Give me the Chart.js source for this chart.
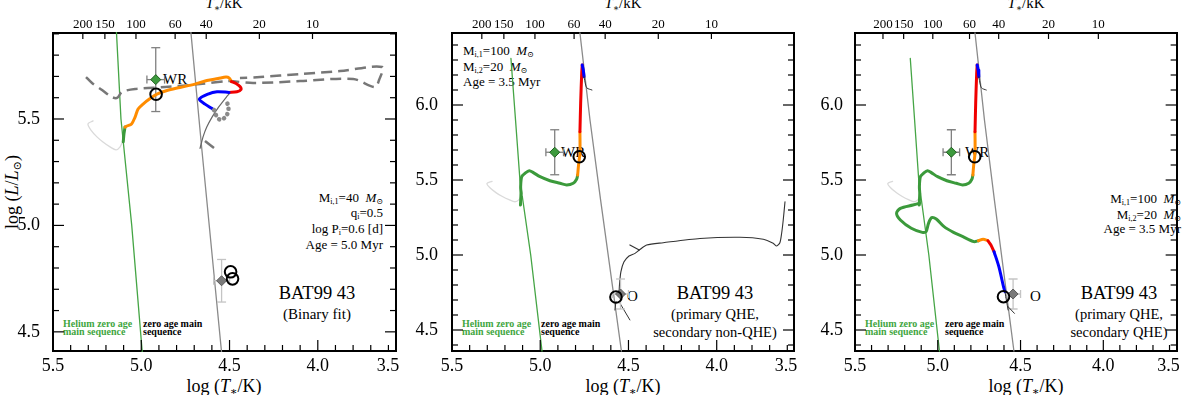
<!DOCTYPE html>
<html>
<head>
<meta charset="utf-8">
<script src="https://cdn.jsdelivr.net/npm/chart.js@4.4.1/dist/chart.umd.min.js"></script>
<style>
  html, body { margin:0; padding:0; background:#fff; }
  #wrap { position:relative; width:1200px; height:395px; overflow:hidden; background:#fff; }
  #wrap canvas { position:absolute; left:0; top:0; z-index:2; }
  .lbl { position:absolute; white-space:nowrap; line-height:1; color:#000; z-index:1;
         font-family:'Liberation Serif','Times New Roman','DejaVu Serif',serif; }
  .lbl sub { font-size:0.62em; vertical-align:-0.3em; line-height:0; }
  .lbl i { font-style:italic; }
</style>
</head>
<body>
<div id="wrap">
  <canvas id="c1" width="1200" height="395"></canvas>
  <canvas id="c2" width="1200" height="395"></canvas>
  <canvas id="c3" width="1200" height="395"></canvas>
</div>
<script>
// ---------------- tick labels ----------------
const bottomTickVals = [5.5, 5.0, 4.5, 4.0, 3.5];
const bottomTickLabels = ['5.5', '5.0', '4.5', '4.0', '3.5\u2002\u2009\u2009'];  // last label sits just inside the frame
const topTickK = [200, 150, 100, 60, 40, 20, 10];
const yTicks1 = [4.5, 5.0, 5.5];
const yTicks23 = [4.5, 5.0, 5.5, 6.0];
const topAxisShift = 0.03;   // the T*/kK axis of the reference sits ~0.03 dex off the log T axis

// ---------------- shared curves (log T, log L) ----------------
const heZamsT = [5.166, 5.140, 5.115, 5.054, 4.990];
const heZamsL = [6.31, 5.90, 5.50, 5.00, 4.36];
const zamsT = [4.775, 4.718, 4.658, 4.540];
const zamsL = [6.48, 5.90, 5.367, 4.36];
const lightT = [5.273, 5.302, 5.285, 5.251, 5.217, 5.177, 5.143, 5.120, 5.103];
const lightL = [5.491, 5.477, 5.448, 5.416, 5.392, 5.369, 5.355, 5.369, 5.401];

// observed stars: [WR, O]
const obsT = [4.918, 4.545];
const obsL = [5.685, 4.740];
const obsErrT = [0.05, 0.045];
const obsErrL = [0.15, 0.10];

// ---------------- panel 1: binary fit ----------------
const b1GreenT = [5.102, 5.098, 5.092];
const b1GreenL = [5.393, 5.430, 5.462];
const b1OrangeT = [5.092, 5.081, 5.055, 5.035, 5.018, 4.990, 4.950, 4.911, 4.854, 4.781, 4.696, 4.628, 4.565, 4.520, 4.503, 4.489];
const b1OrangeL = [5.462, 5.467, 5.477, 5.509, 5.547, 5.570, 5.596, 5.617, 5.634, 5.648, 5.664, 5.681, 5.690, 5.697, 5.693, 5.676];
const b1RedT = [4.489, 4.463, 4.441, 4.435, 4.458, 4.503];
const b1RedL = [5.676, 5.667, 5.653, 5.639, 5.628, 5.625];
const b1BlueT = [4.503, 4.571, 4.622, 4.671, 4.639, 4.601, 4.588];
const b1BlueL = [5.625, 5.628, 5.617, 5.593, 5.570, 5.550, 5.542];
const b1DotT = [4.588, 4.574, 4.557, 4.534, 4.514, 4.506, 4.511, 4.523];
const b1DotL = [5.542, 5.514, 5.498, 5.502, 5.521, 5.547, 5.570, 5.594];
const b1SecT = [4.667, 4.650, 4.629, 4.599, 4.560, 4.516, 4.503];
const b1SecL = [5.362, 5.416, 5.462, 5.509, 5.558, 5.605, 5.617];
const b1DashT = [5.313, 5.279, 5.222, 5.166, 5.137, 5.109, 5.035, 4.865, 4.667, 4.509, 4.367, 4.101, 3.800, 3.676, 3.653, 3.636, 3.874, 4.101, 4.327, 4.441];
const b1DashL = [5.697, 5.669, 5.636, 5.603, 5.599, 5.627, 5.641, 5.650, 5.664, 5.678, 5.669, 5.678, 5.688, 5.650, 5.683, 5.744, 5.725, 5.711, 5.697, 5.693];
const b1Dash2T = [4.639, 4.588];
const b1Dash2L = [5.397, 5.364];
const b1ModelT = [4.916, 4.494, 4.483];
const b1ModelL = [5.616, 4.782, 4.749];

// ---------------- panels 2 & 3: primary 100 Msun QHE ----------------
const qGreenT = [5.112, 5.109, 5.111, 5.105, 5.086, 5.062, 5.039, 5.001, 4.945, 4.888, 4.850, 4.813, 4.794, 4.788];
const qGreenL = [5.333, 5.413, 5.455, 5.522, 5.545, 5.562, 5.549, 5.522, 5.495, 5.478, 5.467, 5.478, 5.505, 5.533];
const qOrangeT = [4.788, 4.782, 4.775, 4.775];
const qOrangeL = [5.533, 5.611, 5.678, 5.822];
const qRedT = [4.775, 4.771, 4.765, 4.762];
const qRedL = [5.822, 6.011, 6.211, 6.267];
const qBlueT = [4.762, 4.756, 4.752];
const qBlueL = [6.267, 6.233, 6.189];
const qThinT = [4.752, 4.744, 4.735, 4.707];
const qThinL = [6.189, 6.140, 6.113, 6.100];

// panel 2: secondary non-QHE
const nSecT = [4.554, 4.551, 4.543, 4.526, 4.497, 4.463, 4.439, 4.397, 4.303, 4.095, 3.868, 3.736, 3.680, 3.660, 3.642, 3.632, 3.623, 3.613];
const nSecL = [4.727, 4.800, 4.887, 4.953, 4.993, 5.011, 5.033, 5.067, 5.082, 5.110, 5.118, 5.105, 5.078, 5.060, 5.082, 5.145, 5.233, 5.355];
const nSpikeT = [4.439, 4.492];
const nSpikeL = [5.033, 5.067];
const nTailAT = [4.571, 4.577];
const nTailAL = [4.689, 4.633];
const nTailBT = [4.548, 4.492];
const nTailBL = [4.678, 4.567];
const nModelT = [4.779, 4.571];
const nModelL = [5.655, 4.720];

// panel 3: secondary QHE
const sGreenT = [5.109, 5.150, 5.226, 5.249, 5.226, 5.160, 5.094, 5.071, 5.056, 5.037, 5.009, 4.962, 4.905, 4.848, 4.782, 4.754];
const sGreenL = [5.345, 5.333, 5.311, 5.278, 5.233, 5.178, 5.151, 5.155, 5.211, 5.249, 5.240, 5.189, 5.151, 5.122, 5.089, 5.095];
const sOrangeT = [4.754, 4.726, 4.697];
const sOrangeL = [5.095, 5.105, 5.095];
const sRedT = [4.697, 4.679, 4.660];
const sRedL = [5.095, 5.067, 5.022];
const sBlueT = [4.660, 4.631, 4.603, 4.594];
const sBlueL = [5.022, 4.922, 4.789, 4.755];
const sThinT = [4.594, 4.584, 4.575];
const sThinL = [4.755, 4.689, 4.633];
const sThin2T = [4.575, 4.537];
const sThin2L = [4.655, 4.611];
const sModelT = [4.777, 4.603];
const sModelL = [5.655, 4.722];

// ---------------- styling ----------------
const FONT = "'Liberation Serif', 'Times New Roman', serif";
Chart.defaults.font.family = FONT;
Chart.defaults.color = '#000';
const C = { green:'#3b9a3b', heGreen:'#45a545', orange:'#ff8c00', red:'#f00000', blue:'#0000ff',
            zams:'#8a8a8a', light:'#dadada', dash:'#777777', thin:'#333333' };

const pts = (xs, ys) => xs.map((x, i) => ({ x: x, y: ys[i] }));
function line(xs, ys, color, width, extra) {
  return Object.assign({ data: pts(xs, ys), showLine: true, borderColor: color, backgroundColor: color,
    borderWidth: width, pointRadius: 0, pointHoverRadius: 0, pointHitRadius: 0, tension: 0,
    borderCapStyle: 'round', borderJoinStyle: 'round', fill: false }, extra || {});
}
function marker(xs, ys, style, r, fillC, edgeC, bw) {
  return { data: pts(xs, ys), showLine: false, pointStyle: style, pointRadius: r, pointHoverRadius: r,
    pointBackgroundColor: fillC, pointBorderColor: edgeC, pointBorderWidth: bw,
    backgroundColor: fillC, borderColor: edgeC };
}
function errBars(i, color) {
  const x = obsT[i], y = obsL[i], ex = obsErrT[i], ey = obsErrL[i];
  return [
    line([x, x], [y - ey, y + ey], color, 1.3, { pointRadius: 4.5, pointStyle: 'line',
      pointBorderColor: color, pointBorderWidth: 1.3, borderCapStyle: 'butt' }),
    line([x - ex, x + ex], [y, y], color, 1.3, { pointRadius: 4, pointStyle: 'line',
      pointRotation: 90, pointBorderColor: color, pointBorderWidth: 1.3, borderCapStyle: 'butt' })
  ];
}
const T3 = { tension: 0.3 };
const base = () => [
  line(heZamsT, heZamsL, C.heGreen, 1.3),
  line(zamsT, zamsL, C.zams, 1.3),
  line(lightT, lightL, C.light, 1.3, T3)
];
const obsMarkers = () => [
  marker([obsT[0]], [obsL[0]], 'rectRot', 5, '#3d9a3d', '#1f5f1f', 1),
  marker([obsT[1]], [obsL[1]], 'rectRot', 5, '#7a7a7a', '#5a5a5a', 1)
];
const circles = (xs, ys) => marker(xs, ys, 'circle', 5.8, 'rgba(0,0,0,0)', '#000', 2);

const ds1 = [].concat(base(), [
  line(b1DashT, b1DashL, C.dash, 2.5, { borderDash: [11, 6], tension: 0.3, borderCapStyle: 'butt' }),
  line(b1Dash2T, b1Dash2L, C.dash, 2.5, { borderCapStyle: 'butt' }),
  line(b1SecT, b1SecL, '#666', 1.2, T3)
], errBars(0, '#808080'), errBars(1, '#c4c4c4'), [
  line(b1GreenT, b1GreenL, C.green, 3, T3),
  line(b1OrangeT, b1OrangeL, C.orange, 3, T3),
  line(b1RedT, b1RedL, C.red, 3, T3),
  line(b1BlueT, b1BlueL, C.blue, 3, T3),
  line(b1DotT, b1DotL, '#8a8a8a', 4.5, { borderDash: [0.1, 5.2], tension: 0.3 })
], obsMarkers(), [circles(b1ModelT, b1ModelL)]);

const primary = () => [
  line(qGreenT, qGreenL, C.green, 3, T3),
  line(qOrangeT, qOrangeL, C.orange, 3, T3),
  line(qRedT, qRedL, C.red, 3, T3),
  line(qBlueT, qBlueL, C.blue, 3),
  line(qThinT, qThinL, C.thin, 1, T3)
];

const ds2 = [].concat(base(), [
  line(nSecT, nSecL, C.thin, 1.1, { tension: 0.25 }),
  line(nSpikeT, nSpikeL, C.thin, 1.1),
  line(nTailAT, nTailAL, C.thin, 1),
  line(nTailBT, nTailBL, C.thin, 1)
], errBars(0, '#808080'), errBars(1, '#c4c4c4'), primary(), obsMarkers(), [circles(nModelT, nModelL)]);

const ds3 = [].concat(base(), errBars(0, '#808080'), errBars(1, '#c4c4c4'), [
  line(sGreenT, sGreenL, C.green, 3, T3),
  line(sOrangeT, sOrangeL, C.orange, 3, T3),
  line(sRedT, sRedL, C.red, 3, T3),
  line(sBlueT, sBlueL, C.blue, 3, T3),
  line(sThinT, sThinL, C.thin, 1, T3),
  line(sThin2T, sThin2L, C.thin, 1)
], primary(), obsMarkers(), [circles(sModelT, sModelL)]);

// inward tick marks drawn from the chart's own scales
const inTicks = {
  id: 'inTicks',
  afterDraw(chart) {
    const { ctx, chartArea: a, scales } = chart;
    const sx = scales.x, sx2 = scales.x2, sy = scales.y;
    const MAJ = 11, MIN = 6;
    ctx.save();
    ctx.strokeStyle = '#000';
    ctx.lineWidth = 1.2;
    const seg = (x1, y1, x2, y2) => { ctx.beginPath(); ctx.moveTo(x1, y1); ctx.lineTo(x2, y2); ctx.stroke(); };
    for (let k = Math.ceil(sx.min * 10 - 1e-6); k <= Math.floor(sx.max * 10 + 1e-6); k++) {
      const px = sx.getPixelForValue(k / 10);
      seg(px, a.bottom, px, a.bottom - (k % 5 === 0 ? MAJ : MIN));
    }
    for (let k = Math.ceil(sy.min * 10 - 1e-6); k <= Math.floor(sy.max * 10 + 1e-6); k++) {
      const py = sy.getPixelForValue(k / 10);
      const len = (k % 5 === 0 ? MAJ : MIN);
      seg(a.left, py, a.left + len, py);
      seg(a.right, py, a.right - len, py);
    }
    topTickK.forEach(t => {
      const px = sx2.getPixelForValue(Math.log10(t * 1000));
      seg(px, a.top, px, a.top + 6);
    });
    ctx.restore();
  }
};

function makeChart(id, datasets, P) {
  datasets.forEach((d, i) => { d.order = -i; d.clip = 1; });
  const border = { display: true, color: '#000', width: 2 };
  const noGrid = { display: false, drawTicks: false };
  return new Chart(document.getElementById(id), {
    type: 'scatter',
    data: { datasets: datasets },
    options: {
      responsive: false, animation: false, events: [],
      layout: { padding: 0 },
      plugins: { legend: { display: false }, tooltip: { enabled: false } },
      scales: {
        x: { type: 'linear', position: 'bottom', reverse: true, min: P.xmin, max: 5.5,
             afterFit: s => { s.height = 44; },
             afterBuildTicks: s => { s.ticks = bottomTickVals.map(v => ({ value: Math.max(P.xmin, v) })); },
             ticks: { autoSkip: false, maxRotation: 0, minRotation: 0, padding: 4, color: '#000',
                      font: { family: FONT, size: 18 }, callback: (v, i) => bottomTickLabels[i] },
             grid: noGrid, border: border },
        x2: { type: 'linear', position: 'top', reverse: true,
              min: P.xmin - topAxisShift, max: 5.5 - topAxisShift,
              afterFit: s => { s.height = 33; },
              afterBuildTicks: s => { s.ticks = topTickK.map(t => ({ value: Math.log10(t * 1000) })); },
              ticks: { autoSkip: false, maxRotation: 0, minRotation: 0, padding: 1, color: '#000',
                       font: { family: FONT, size: 13 }, callback: (v, i) => String(topTickK[i]) },
              grid: noGrid, border: border },
        y: { type: 'linear', position: 'left', min: P.ymin, max: P.ymax,
             afterFit: s => { s.width = P.left; },
             afterBuildTicks: s => { s.ticks = P.yt.map(v => ({ value: v })); },
             ticks: { autoSkip: false, padding: P.ypad, color: '#000', font: { family: FONT, size: 18 },
                      callback: v => Number(v).toFixed(1) },
             grid: noGrid, border: border },
        y2: { type: 'linear', position: 'right', min: P.ymin, max: P.ymax,
              afterFit: s => { s.width = P.rightW; },
              ticks: { display: false }, grid: noGrid, border: border }
      }
    },
    plugins: [inTicks]
  });
}

makeChart('c1', ds1, { xmin: 3.557, ymin: 4.41, ymax: 5.904, yt: yTicks1, left: 53, rightW: 804, ypad: 13 });
makeChart('c2', ds2, { xmin: 3.562, ymin: 4.36, ymax: 6.48, yt: yTicks23, left: 452, rightW: 406, ypad: 14 });
makeChart('c3', ds3, { xmin: 3.557, ymin: 4.36, ymax: 6.48, yt: yTicks23, left: 855, rightW: 2, ypad: 12 });

// ---------------- text annotations ----------------
const GREEN_TXT = '#3fa63f';
const MSUN = '<i>M</i><sub>&#8857;</sub>';
const texts = [
  // panel 1
  { x: 383, y: 197, a: 'r', s: 13, h: 'M<sub>i,1</sub>=40&nbsp; ' + MSUN },
  { x: 383, y: 212, a: 'r', s: 13, h: 'q<sub>i</sub>=0.5' },
  { x: 383, y: 228, a: 'r', s: 13, h: 'log P<sub>i</sub>=0.6 [d]' },
  { x: 383, y: 244, a: 'r', s: 13, h: 'Age = 5.0 Myr' },
  { x: 317, y: 293, a: 'c', s: 18.5, h: 'BAT99 43' },
  { x: 317, y: 314, a: 'c', s: 15, h: '(Binary fit)' },
  { x: 63, y: 324, s: 10, b: 1, c: GREEN_TXT, h: 'Helium zero age' },
  { x: 63, y: 331.5, s: 10, b: 1, c: GREEN_TXT, h: 'main sequence' },
  { x: 143, y: 324, s: 10, b: 1, h: 'zero age main' },
  { x: 143, y: 331.5, s: 10, b: 1, h: 'sequence' },
  { x: 163, y: 79, s: 15, h: 'WR' },
  { x: 224, y: 386, a: 'c', s: 18, h: 'log (<i>T</i><sub>&#8727;</sub>/K)' },
  { x: 224, y: 3, a: 'c', s: 15, h: '<i>T</i><sub>&#8727;</sub>/kK' },
  { x: 12, y: 192, rot: 1, s: 18, h: 'log (<i>L</i>/<i>L</i><sub>&#8857;</sub>)' },
  // panel 2
  { x: 463, y: 50, s: 13, h: 'M<sub>i,1</sub>=100&nbsp; ' + MSUN },
  { x: 463, y: 66, s: 13, h: 'M<sub>i,2</sub>=20&nbsp; ' + MSUN },
  { x: 463, y: 81, s: 13, h: 'Age = 3.5 Myr' },
  { x: 561, y: 152, s: 15, h: 'WR' },
  { x: 627, y: 296, s: 15, h: 'O' },
  { x: 715, y: 293, a: 'c', s: 18.5, h: 'BAT99 43' },
  { x: 715, y: 314, a: 'c', s: 14.5, h: '(primary QHE,' },
  { x: 715, y: 332, a: 'c', s: 14.5, h: 'secondary non-QHE)' },
  { x: 462, y: 324, s: 10, b: 1, c: GREEN_TXT, h: 'Helium zero age' },
  { x: 462, y: 331.5, s: 10, b: 1, c: GREEN_TXT, h: 'main sequence' },
  { x: 541, y: 324, s: 10, b: 1, h: 'zero age main' },
  { x: 541, y: 331.5, s: 10, b: 1, h: 'sequence' },
  { x: 623, y: 386, a: 'c', s: 18, h: 'log (<i>T</i><sub>&#8727;</sub>/K)' },
  { x: 623, y: 3, a: 'c', s: 15, h: '<i>T</i><sub>&#8727;</sub>/kK' },
  // panel 3
  { x: 1181, y: 198, a: 'r', s: 13, h: 'M<sub>i,1</sub>=100&nbsp; ' + MSUN },
  { x: 1181, y: 214, a: 'r', s: 13, h: 'M<sub>i,2</sub>=20&nbsp; ' + MSUN },
  { x: 1181, y: 228, a: 'r', s: 13, h: 'Age = 3.5 Myr' },
  { x: 965, y: 152, s: 15, h: 'WR' },
  { x: 1030, y: 296, s: 15, h: 'O' },
  { x: 1119, y: 293, a: 'c', s: 18.5, h: 'BAT99 43' },
  { x: 1119, y: 314, a: 'c', s: 14.5, h: '(primary QHE,' },
  { x: 1119, y: 332, a: 'c', s: 14.5, h: 'secondary QHE)' },
  { x: 865, y: 324, s: 10, b: 1, c: GREEN_TXT, h: 'Helium zero age' },
  { x: 865, y: 331.5, s: 10, b: 1, c: GREEN_TXT, h: 'main sequence' },
  { x: 945, y: 324, s: 10, b: 1, h: 'zero age main' },
  { x: 945, y: 331.5, s: 10, b: 1, h: 'sequence' },
  { x: 1026, y: 386, a: 'c', s: 18, h: 'log (<i>T</i><sub>&#8727;</sub>/K)' },
  { x: 1026, y: 3, a: 'c', s: 15, h: '<i>T</i><sub>&#8727;</sub>/kK' }
];
const wrap = document.getElementById('wrap');
texts.forEach(t => {
  const d = document.createElement('div');
  d.className = 'lbl';
  d.innerHTML = t.h;
  d.style.fontSize = t.s + 'px';
  if (t.c) d.style.color = t.c;
  if (t.b) d.style.fontWeight = 'bold';
  d.style.left = t.x + 'px';
  if (t.rot) {
    d.style.top = t.y + 'px';
    d.style.transform = 'translate(-50%, -50%) rotate(-90deg)';
  } else {
    d.style.top = (t.y - t.s * 0.5) + 'px';
    const tx = t.a === 'r' ? '-100%' : (t.a === 'c' ? '-50%' : '0');
    d.style.transform = 'translateX(' + tx + ')';
  }
  wrap.appendChild(d);
});
</script>
</body>
</html>
